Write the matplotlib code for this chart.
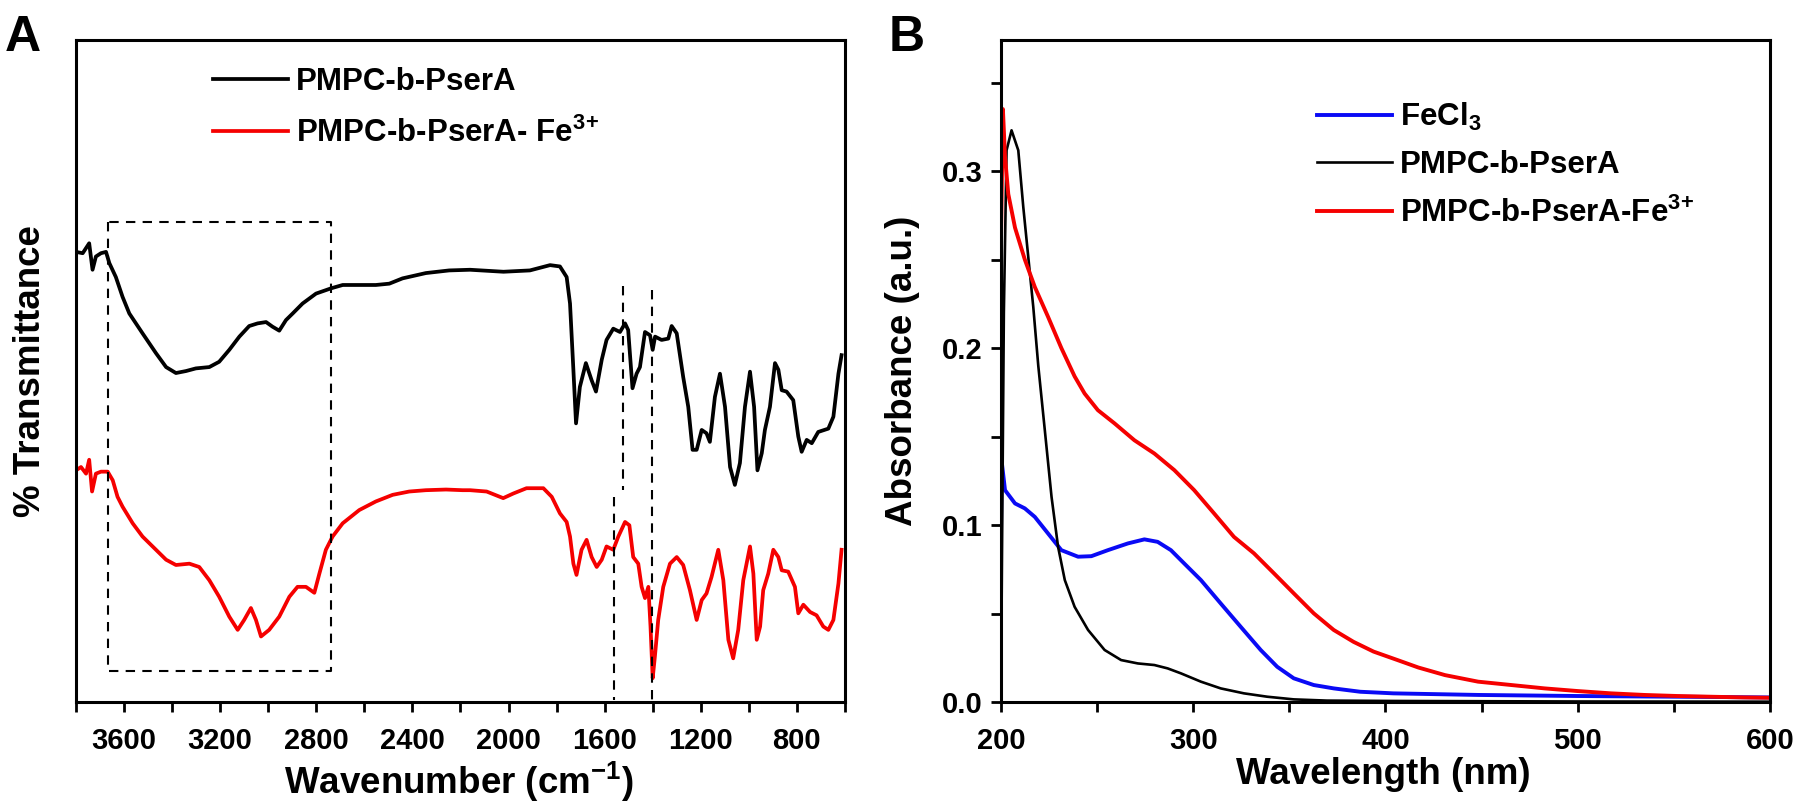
import matplotlib
matplotlib.use("Agg")
import matplotlib.pyplot as plt
from matplotlib.ticker import MultipleLocator

plt.rcParams['font.family'] = ['Liberation Sans', 'DejaVu Sans']
plt.rcParams['font.weight'] = 'bold'
plt.rcParams['mathtext.fontset'] = 'custom'
plt.rcParams['mathtext.rm'] = 'Liberation Sans:bold'
plt.rcParams['mathtext.it'] = 'Liberation Sans:bold'
plt.rcParams['mathtext.bf'] = 'Liberation Sans:bold'
plt.rcParams['axes.linewidth'] = 2.2
plt.rcParams['lines.solid_joinstyle'] = 'round'

# ---- panel A : FTIR (arbitrary transmittance units) ----
wn_black = [3800, 3772, 3745, 3731, 3717, 3696, 3675, 3661, 3634, 3606, 3578, 3523, 3467, 3425,
            3384, 3342, 3301, 3245, 3204, 3162, 3120, 3079, 3044, 3009, 2982, 2954, 2926, 2898,
            2857, 2801, 2738, 2690, 2621, 2552, 2496, 2441, 2344, 2247,
            2160, 2021, 1911, 1827, 1786, 1758, 1744, 1730, 1719, 1703, 1678, 1654, 1636, 1612,
            1592, 1564, 1536, 1515, 1502, 1484, 1467, 1453, 1432, 1411, 1400, 1390, 1363, 1335,
            1321, 1300, 1273, 1252, 1234, 1217, 1196, 1176, 1162, 1141, 1120, 1099, 1078, 1058,
            1037, 1016, 995, 978, 964, 946, 933, 912, 891, 877, 863, 843, 815, 794, 780, 759,
            738, 711, 669, 648, 627, 614]
tr_black = [68.0, 67.8, 69.3, 65.3, 67.3, 67.8, 68.0, 66.3, 64.2, 61.2, 58.7, 55.7, 52.7, 50.6,
            49.7, 50.0, 50.4, 50.6, 51.4, 53.2, 55.2, 56.8, 57.2, 57.4, 56.7, 56.1, 57.7, 58.7,
            60.2, 61.7, 62.5, 63.0, 63.0, 63.0, 63.2, 64.0, 64.8, 65.2,
            65.3, 65.0, 65.2, 66.0, 65.8, 64.2, 60.2, 50.2, 42.1, 47.6, 51.2, 48.6, 46.9, 51.7,
            54.7, 56.4, 55.9, 57.2, 56.2, 47.4, 49.6, 50.6, 55.9, 55.4, 53.2, 55.2, 54.7, 54.9,
            56.8, 55.7, 49.1, 44.6, 38.1, 38.1, 41.1, 40.6, 39.3, 46.1, 49.6, 44.6, 35.5, 32.8,
            36.1, 44.6, 49.9, 44.6, 35.0, 37.6, 41.1, 44.6, 51.2, 50.2, 47.1, 46.9, 45.6, 40.1,
            37.8, 39.6, 39.1, 40.8, 41.3, 43.1, 49.6, 52.4]

wn_red = [3800, 3779, 3758, 3745, 3733, 3717, 3696, 3668, 3647, 3627, 3606, 3564, 3523, 3467,
          3425, 3384, 3328, 3287, 3245, 3204, 3162, 3127, 3100, 3072, 3051, 3030, 2996, 2954,
          2912, 2878, 2843, 2808, 2787, 2760, 2732, 2690, 2621, 2552, 2482, 2413, 2344, 2260, 2191,
          2160, 2091, 2022, 1980, 1925, 1855, 1820, 1786, 1758, 1744, 1730, 1717, 1696, 1675,
          1654, 1633, 1612, 1592, 1564, 1543, 1515, 1497, 1481, 1460, 1446, 1432, 1418, 1409,
          1400, 1391, 1377, 1356, 1328, 1300, 1273, 1245, 1217, 1196, 1176, 1155, 1127, 1106,
          1085, 1065, 1044, 1023, 995, 981, 967, 953, 940, 919, 898, 877, 863, 836, 808, 794,
          773, 745, 718, 690, 669, 648, 627, 614]
tr_red = [35.0, 35.5, 34.5, 36.6, 31.8, 34.5, 34.8, 34.8, 33.5, 31.0, 29.5, 27.0, 25.0, 23.0,
          21.5, 20.7, 20.9, 20.4, 18.4, 15.9, 12.9, 10.9, 12.4, 14.2, 12.4, 9.9, 10.9, 12.9,
          15.9, 17.4, 17.4, 16.5, 19.4, 23.0, 25.0, 27.0, 29.0, 30.3, 31.3, 31.8, 32.0, 32.1, 32.0,
          32.0, 31.8, 30.8, 31.5, 32.3, 32.3, 31.0, 28.5, 27.2, 25.0, 20.9, 19.2, 23.0, 24.5,
          21.9, 20.4, 21.5, 23.5, 23.0, 25.0, 27.2, 26.7, 21.9, 20.9, 17.4, 15.7, 17.4, 11.4,
          3.6, 6.8, 12.4, 17.4, 20.9, 21.9, 20.7, 16.9, 12.4, 15.4, 16.4, 18.9, 23.0, 18.4,
          9.4, 6.6, 10.9, 18.4, 23.5, 19.4, 9.4, 11.4, 16.9, 19.4, 23.0, 21.9, 19.9, 19.7, 17.4, 13.4,
          14.7, 13.6, 13.1, 11.4, 10.9, 12.4, 17.9, 23.0]

# dashed guides: region box and band markers
box_wn = [3667, 2739]
box_tr = [4.7, 72.5]
guide_wn = [1524, 1403, 1561]
guide_top = [62.8, 62.2, 31.0]
guide_bottom = [32.0, 0.0, 0.3]

# ---- panel B : UV-vis ----
wl_fecl3 = [200, 200.3, 202.1, 207.3, 212.4, 217.6, 224.5, 231.4, 240.1, 247, 255.6, 266, 274.6,
            281.5, 288.4, 295.3, 304, 314.3, 324.7, 335.1, 343.7, 352.3, 362.7, 373.1, 386.9,
            404.1, 448.2, 500, 551.8, 600]
abs_fecl3 = [0.0915, 0.1366, 0.1197, 0.1122, 0.1094, 0.1046, 0.0952, 0.0858, 0.0821, 0.0824,
             0.0858, 0.0896, 0.0919, 0.0905, 0.0858, 0.0783, 0.0689, 0.0557, 0.0425, 0.0294,
             0.0199, 0.0134, 0.0096, 0.0077, 0.0058, 0.0049, 0.0040, 0.0034, 0.0030, 0.0026]

wl_poly = [200, 200.5, 201.5, 202.9, 205.5, 209, 211.6, 214.2, 216.8, 219.4, 222.8, 226.3, 229.7,
           233.2, 238.3, 245.3, 253.9, 262.5, 271.2, 279.8, 286.7, 293.6, 304, 314.3, 326.4,
           338.5, 352.3, 369.6, 404.1, 500, 600]
abs_poly = [0.0, 0.08, 0.22, 0.3117, 0.323, 0.3117, 0.2797, 0.2514, 0.2232, 0.19, 0.1536, 0.1159,
            0.0877, 0.0689, 0.0538, 0.0407, 0.0294, 0.0237, 0.0218, 0.0209, 0.0190, 0.0162,
            0.0115, 0.0077, 0.0049, 0.0030, 0.0015, 0.0008, 0.0006, 0.0003, 0.0002]

wl_poly_fe = [200, 201, 202.1, 203.8, 207.3, 212.4, 217.6, 224.5, 231.4, 238.3, 243.5, 250.4,
              259.1, 269.4, 279.8, 290.2, 300.5, 310.9, 321.2, 331.6, 342, 352.3, 362.7, 373.1,
              383.4, 393.8, 406.8, 417.1, 431, 448.2, 465.5, 482.8, 500, 517.3, 534.6, 551.8,
              569.1, 586.4, 600]
abs_poly_fe = [0.261, 0.335, 0.308, 0.287, 0.268, 0.250, 0.2345, 0.2176, 0.2000, 0.1840, 0.1743,
               0.1649, 0.1574, 0.1479, 0.1404, 0.1310, 0.1197, 0.1065, 0.0933, 0.0840, 0.0727,
               0.0614, 0.0501, 0.0407, 0.0340, 0.0285, 0.0235, 0.0195, 0.0152, 0.0115, 0.0096,
               0.0077, 0.0062, 0.0049, 0.0040, 0.0034, 0.0030, 0.0026, 0.0024]

fig = plt.figure(figsize=(18, 8.06), dpi=100)
axA = fig.add_axes([0.0422, 0.129, 0.4272, 0.8213])
axB = fig.add_axes([0.5561, 0.129, 0.4272, 0.8213])

# panel A
axA.plot(wn_black, tr_black, color='black', lw=2.7, label='PMPC-b-PserA')
axA.plot(wn_red, tr_red, color='#f50000', lw=2.7, label='PMPC-b-PserA- Fe$^{3\\!+}$')
dash = (0, (4.5, 3.5))
axA.plot([box_wn[0], box_wn[0], box_wn[1], box_wn[1], box_wn[0]],
         [box_tr[1], box_tr[0], box_tr[0], box_tr[1], box_tr[1]],
         color='black', lw=1.5, ls=dash)
for w, t0, t1 in zip(guide_wn, guide_top, guide_bottom):
    axA.plot([w, w], [t0, t1], color='black', lw=1.5, ls=dash)

axA.set_xlim(3800, 600)
axA.set_ylim(0, 100)
axA.set_yticks([])
axA.xaxis.set_major_locator(MultipleLocator(400))
axA.xaxis.set_minor_locator(MultipleLocator(200))
axA.tick_params(axis='x', which='both', direction='out', length=7, width=2, labelsize=21, pad=11)
axA.set_xlabel('Wavenumber (cm$^{-1}$)', fontsize=26.5, fontweight='bold')
axA.set_ylabel('% Transmittance', fontsize=26.5, fontweight='bold')
axA.xaxis.set_label_coords(0.498, -0.088)
axA.yaxis.set_label_coords(-0.037, 0.5)
axA.legend(loc='upper left', bbox_to_anchor=(0.178, 0.959), frameon=False, fontsize=22.5,
           handlelength=2.4, handletextpad=0.25, labelspacing=0.66, borderpad=0, borderaxespad=0)

# panel B
axB.plot(wl_fecl3, abs_fecl3, color='#0a0af5', lw=2.8, label='FeCl$_3$')
axB.plot(wl_poly, abs_poly, color='black', lw=1.9, label='PMPC-b-PserA')
axB.plot(wl_poly_fe, abs_poly_fe, color='#f50000', lw=2.8, label='PMPC-b-PserA-Fe$^{3\\!+}$')
axB.set_xlim(200, 600)
axB.set_ylim(0, 0.374)
axB.xaxis.set_major_locator(MultipleLocator(100))
axB.xaxis.set_minor_locator(MultipleLocator(50))
axB.yaxis.set_major_locator(MultipleLocator(0.1))
axB.yaxis.set_minor_locator(MultipleLocator(0.05))
axB.tick_params(axis='both', which='both', direction='out', length=7, width=2, labelsize=21)
axB.tick_params(axis='x', which='both', pad=11)
axB.tick_params(axis='y', which='both', pad=6)
axB.set_xlabel('Wavelength (nm)', fontsize=26.5, fontweight='bold')
axB.set_ylabel('Absorbance (a.u.)', fontsize=26.5, fontweight='bold')
axB.xaxis.set_label_coords(0.497, -0.083)
axB.yaxis.set_label_coords(-0.105, 0.5)
axB.legend(loc='upper left', bbox_to_anchor=(0.411, 0.908), frameon=False, fontsize=22.5,
           handlelength=2.4, handletextpad=0.25, labelspacing=0.55, borderpad=0, borderaxespad=0)

fig.text(5 / 1800, 1 - 51 / 806, 'A', fontsize=36, fontweight='bold', va='baseline', ha='left')
fig.text(889 / 1800, 1 - 51 / 806, 'B', fontsize=36, fontweight='bold', va='baseline', ha='left')

fig.savefig('out.png', dpi=100)
